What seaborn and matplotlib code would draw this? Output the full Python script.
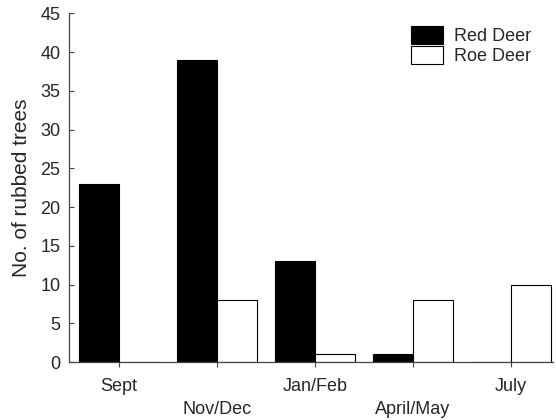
import numpy as np
import pandas as pd
import matplotlib
matplotlib.use('Agg')
import matplotlib.pyplot as plt
import seaborn as sns

# Data
months = ['Sept', 'Nov/Dec', 'Jan/Feb', 'April/May', 'July']
red_deer = [23, 39, 13, 1, 0]
roe_deer = [0, 8, 1, 8, 10]
species = ['Red Deer', 'Roe Deer']

df = pd.DataFrame({
    'Month': months * 2,
    'Trees': red_deer + roe_deer,
    'Species': [species[0]] * len(months) + [species[1]] * len(months),
})

sns.set_style('ticks')
plt.rcParams['font.family'] = ['Liberation Sans', 'DejaVu Sans']

fig = plt.figure(figsize=(5.56, 4.2), dpi=100)
ax = fig.add_axes([0.124, 0.138, 0.871, 0.83])

sns.barplot(data=df, x='Month', y='Trees', hue='Species', order=months,
            hue_order=species, palette={'Red Deer': 'black', 'Roe Deer': 'white'},
            width=0.82, gap=0, edgecolor='black', linewidth=0.8, saturation=1,
            errorbar=None, ax=ax)

ax.set_xlim(-0.51, 4.43)
ax.set_ylim(0, 45)
ax.set_yticks(np.arange(0, 46, 5))
ax.set_ylabel('No. of rubbed trees', fontsize=15, labelpad=7)
ax.set_xlabel('')
ax.tick_params(axis='y', labelsize=13, direction='in', length=3.5, width=0.8,
               color='#444444', pad=6)
ax.tick_params(axis='x', labelsize=13, direction='out', length=3.5, width=0.8,
               color='#444444')

# staggered month labels
for i, tick in enumerate(ax.xaxis.get_major_ticks()):
    tick.set_pad(8 if i % 2 == 0 else 24.5)

sns.despine(ax=ax)
for s in ['left', 'bottom']:
    ax.spines[s].set_linewidth(0.9)
    ax.spines[s].set_color('#444444')

leg = ax.legend(loc='upper right', frameon=False, fontsize=13,
                handlelength=1.75, handleheight=1.15, handletextpad=0.6,
                labelspacing=0.05, borderaxespad=0.3,
                bbox_to_anchor=(0.98, 1.0))

fig.savefig('out.png', dpi=100)
